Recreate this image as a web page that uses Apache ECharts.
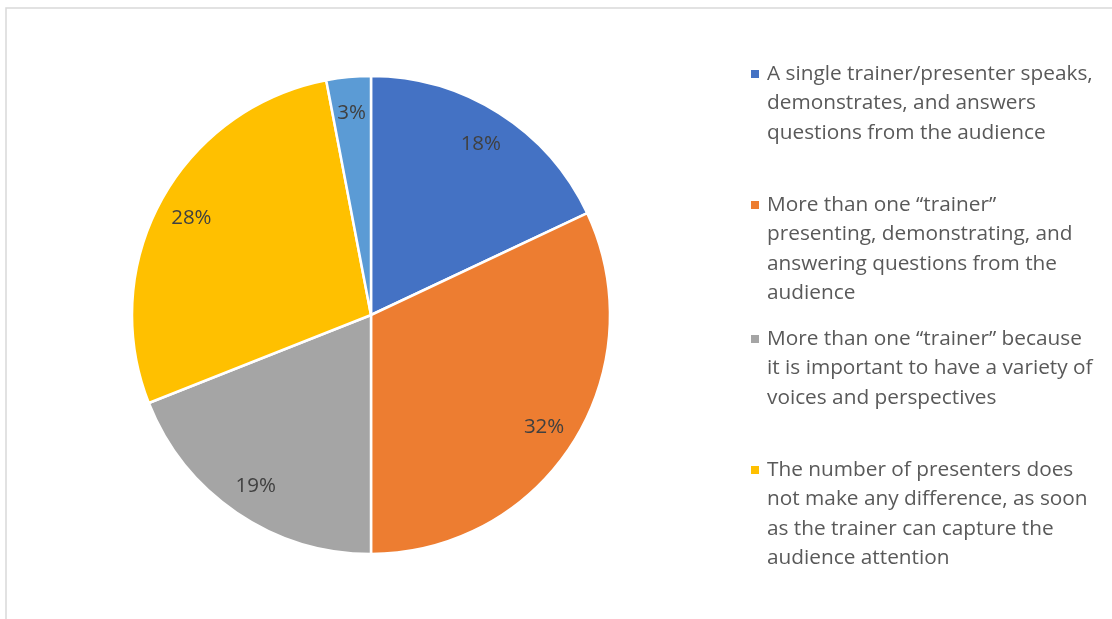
<!DOCTYPE html>
<html>
<head>
<meta charset="utf-8">
<title>Preferred number of trainers</title>
<script src="https://cdn.jsdelivr.net/npm/echarts@6/dist/echarts.min.js"></script>
<style>
  html, body { margin: 0; padding: 0; background: #ffffff; }
  #chart { width: 1112px; height: 619px; }
</style>
</head>
<body>
<div id="chart"></div>
<script>
// Survey answers: share of respondents per preferred presenter format
const categories = [
  'A single trainer/presenter speaks, demonstrates, and answers questions from the audience',
  'More than one “trainer” presenting, demonstrating, and answering questions from the audience',
  'More than one “trainer” because it is important to have a variety of voices and perspectives',
  'The number of presenters does not make any difference, as soon as the trainer can capture the audience attention',
  'Other'
];
const shares = [18, 32, 19, 28, 3];
const colors = ['#4472C4', '#ED7D31', '#A5A5A5', '#FFC000', '#5B9BD5'];

// Legend wording, broken into lines
const legendLines = [
  ['A single trainer/presenter speaks,', 'demonstrates, and answers', 'questions from the audience'],
  ['More than one “trainer”', 'presenting, demonstrating, and', 'answering questions from the', 'audience'],
  ['More than one “trainer” because', 'it is important to have a variety of', 'voices and perspectives'],
  ['The number of presenters does', 'not make any difference, as soon', 'as the trainer can capture the', 'audience attention']
];
const legendFirstLineY = [74, 205, 339, 470];

const FONT = '"Open Sans", sans-serif';
const LH = 29.5;

const pieData = categories.map((name, i) => ({
  name: name,
  value: shares[i],
  itemStyle: { color: colors[i] }
}));

// Icon spanning the full text block, with the small square drawn beside the first line
function topSquareIcon(h) {
  const a = LH / 2 - 4, b = LH / 2 + 4;
  return 'path://M0,0L8,0L0,0Z' +
    'M0,' + a + 'L8,' + a + 'L8,' + b + 'L0,' + b + 'Z' +
    'M0,' + h + 'L8,' + h + 'L0,' + h + 'Z';
}

// One legend block per entry
const legends = legendLines.map((lines, i) => {
  const h = lines.length * LH;
  return {
    data: [categories[i]],
    left: 751,
    top: legendFirstLineY[i] - LH / 2,
    padding: 0,
    orient: 'vertical',
    icon: topSquareIcon(h),
    itemWidth: 8,
    itemHeight: h,
    itemGap: 0,
    itemStyle: { borderWidth: 0 },
    formatter: () => lines.join('\n'),
    textStyle: {
      fontFamily: FONT,
      fontSize: 20.8,
      color: '#595959',
      lineHeight: LH,
      padding: [0, 0, 0, 3]
    }
  };
});

const chart = echarts.init(document.getElementById('chart'), null, { renderer: 'canvas' });
chart.setOption({
  animation: false,
  backgroundColor: '#ffffff',
  graphic: [{
    type: 'rect',
    silent: true,
    z: -10,
    shape: { x: 6, y: 8, width: 2000, height: 2000 },
    style: { fill: 'none', stroke: '#d9d9d9', lineWidth: 1.5 }
  }],
  legend: legends,
  series: [
    {
      type: 'pie',
      center: [371, 315],
      radius: [0, 239],
      startAngle: 90,
      clockwise: true,
      data: pieData,
      label: { show: false },
      labelLine: { show: false },
      itemStyle: { borderColor: '#ffffff', borderWidth: 2.5 },
      emphasis: { disabled: true }
    },
    {
      // transparent ring that carries the percentage labels near the rim
      type: 'pie',
      center: [371, 315],
      radius: [165, 239],
      startAngle: 90,
      clockwise: true,
      silent: true,
      data: pieData.map(d => ({ name: d.name, value: d.value })),
      itemStyle: { color: 'rgba(0,0,0,0)', borderWidth: 0 },
      label: {
        show: true,
        position: 'inside',
        formatter: p => p.value + '%',
        fontFamily: FONT,
        fontSize: 20.5,
        color: '#404040',
        offset: [0, 2]
      },
      labelLine: { show: false },
      emphasis: { disabled: true }
    }
  ]
});
</script>
</body>
</html>
